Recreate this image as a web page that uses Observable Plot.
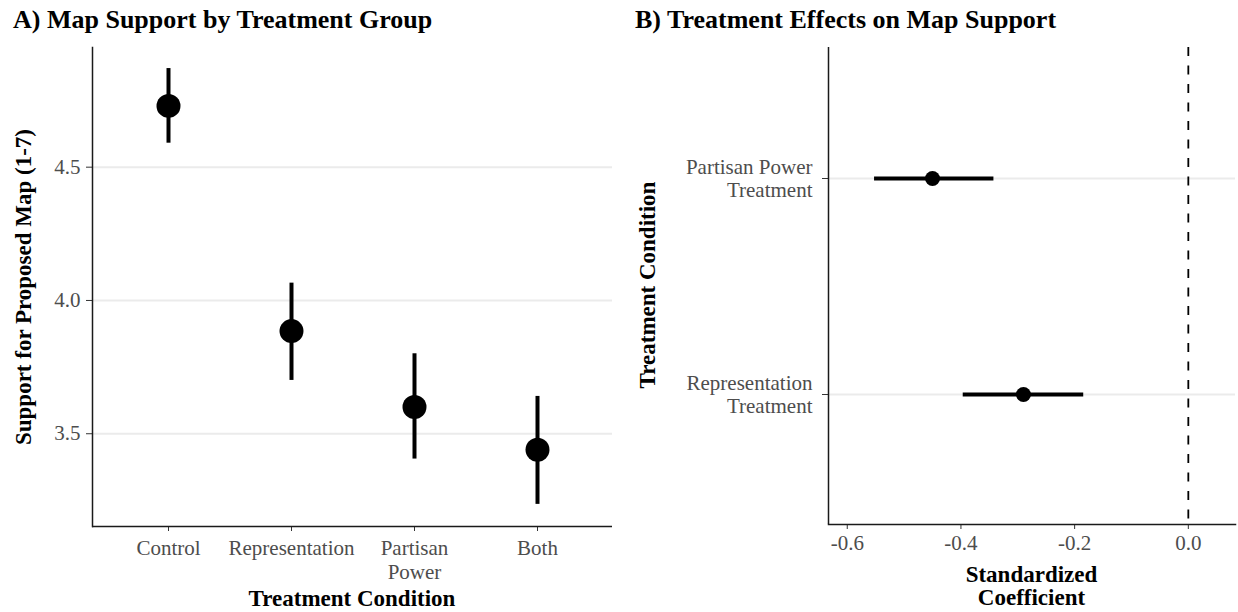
<!DOCTYPE html>
<html><head><meta charset="utf-8">
<script src="https://cdn.jsdelivr.net/npm/d3@7"></script>
<script src="https://cdn.jsdelivr.net/npm/@observablehq/plot@0.6"></script>
<style>
body{margin:0;background:#fff;font-family:"Liberation Serif",serif;}
#wrap{position:relative;width:1238px;height:612px;overflow:hidden;background:#fff}
.t{position:absolute;font-weight:bold;color:#000;white-space:nowrap;line-height:1}
.title{font-size:26px}
.ax{font-size:23px}
.rot{transform:translate(-50%,-50%) rotate(-90deg)}
.panel{position:absolute;top:40px}
</style>
</head><body>
<div id="wrap">
  <div class="t title" style="left:13px;top:7px">A) Map Support by Treatment Group</div>
  <div class="t title" style="left:635px;top:7px">B) Treatment Effects on Map Support</div>
  <div class="t ax rot" style="left:23px;top:287px">Support for Proposed Map (1-7)</div>
  <div class="t ax rot" style="left:647px;top:285px">Treatment Condition</div>
  <div class="t ax" style="left:92px;width:520px;text-align:center;top:587px">Treatment Condition</div>
  <div class="t ax" style="left:828px;width:407px;text-align:center;top:563px;line-height:23px">Standardized<br>Coefficient</div>
  <div id="left" class="panel" style="left:0px"></div>
  <div id="right" class="panel" style="left:620px"></div>
</div>
<script>
// Panel A data
const groups = ["Control", "Representation", "Partisan Power", "Both"];
const groupLabels = ["Control", "Representation", "Partisan\nPower", "Both"];
const means = [4.73, 3.885, 3.60, 3.44];
const lower = [4.59, 3.70, 3.405, 3.235];
const upper = [4.87, 4.065, 3.80, 3.64];
const yTicks = [3.5, 4.0, 4.5];

// Panel B data
const effectTerms = ["Partisan Power Treatment", "Representation Treatment"];
const effectLabels = ["Partisan Power\nTreatment", "Representation\nTreatment"];
const estimates = [-0.45, -0.29];
const ciLow = [-0.552, -0.396];
const ciHigh = [-0.342, -0.184];
const xTicks = [-0.6, -0.4, -0.2, 0.0];

const dataA = groups.map((g, i) => ({group: g, mean: means[i], lower: lower[i], upper: upper[i]}));
const dataB = effectTerms.map((t, i) => ({term: t, est: estimates[i], lo: ciLow[i], hi: ciHigh[i]}));

const baseStyle = {fontFamily: "Liberation Serif", fontSize: "21px", color: "#4d4d4d", background: "transparent", overflow: "visible"};
const yMinA = 3.152, yMaxA = 4.949;
const xMinB = -0.633, xMaxB = 0.083;

const left = Plot.plot({
  width: 620, height: 572,
  marginTop: 7, marginBottom: 86, marginLeft: 92, marginRight: 8,
  style: baseStyle,
  x: {type: "point", domain: groups, padding: 0.6, label: null},
  y: {domain: [yMinA, yMaxA], label: null},
  marks: [
    Plot.gridY(yTicks, {stroke: "#ebebeb", strokeOpacity: 1, strokeWidth: 2}),
    Plot.axisY(yTicks, {tickSize: 6, tickPadding: 6, tickFormat: d => d.toFixed(1), label: null, stroke: "#333"}),
    Plot.axisX({tickSize: 5, tickPadding: 6, lineHeight: 1.15, tickFormat: d => groupLabels[groups.indexOf(d)], label: null, stroke: "#333"}),
    Plot.ruleY([yMinA], {stroke: "#1a1a1a", strokeWidth: 1.5}),
    Plot.frame({anchor: "left", stroke: "#1a1a1a", strokeWidth: 1.5}),
    Plot.ruleX(dataA, {x: "group", y1: "lower", y2: "upper", stroke: "#000", strokeWidth: 4}),
    Plot.dot(dataA, {x: "group", y: "mean", r: 12, fill: "#000", stroke: null})
  ]
});
document.getElementById("left").append(left);

const right = Plot.plot({
  width: 618, height: 572,
  marginTop: 7, marginBottom: 88, marginLeft: 208, marginRight: 3,
  style: baseStyle,
  x: {domain: [xMinB, xMaxB], label: null},
  y: {type: "point", domain: effectTerms, padding: 0.6, label: null},
  marks: [
    Plot.gridY({stroke: "#ebebeb", strokeOpacity: 1, strokeWidth: 2}),
    Plot.axisY({tickSize: 6, tickPadding: 10, lineHeight: 1.1, tickFormat: d => effectLabels[effectTerms.indexOf(d)], label: null, stroke: "#333"}),
    Plot.axisX(xTicks, {tickSize: 5, tickPadding: 6, tickFormat: d => d.toFixed(1), label: null, stroke: "#333"}),
    Plot.ruleX([xMinB], {stroke: "#1a1a1a", strokeWidth: 1.5}),
    Plot.frame({anchor: "bottom", stroke: "#1a1a1a", strokeWidth: 1.5}),
    Plot.ruleX([0], {stroke: "#000", strokeWidth: 1.8, strokeDasharray: "9,9.5"}),
    Plot.ruleY(dataB, {y: "term", x1: "lo", x2: "hi", stroke: "#000", strokeWidth: 4}),
    Plot.dot(dataB, {y: "term", x: "est", r: 7.5, fill: "#000", stroke: null})
  ]
});
document.getElementById("right").append(right);
</script>
</body></html>
